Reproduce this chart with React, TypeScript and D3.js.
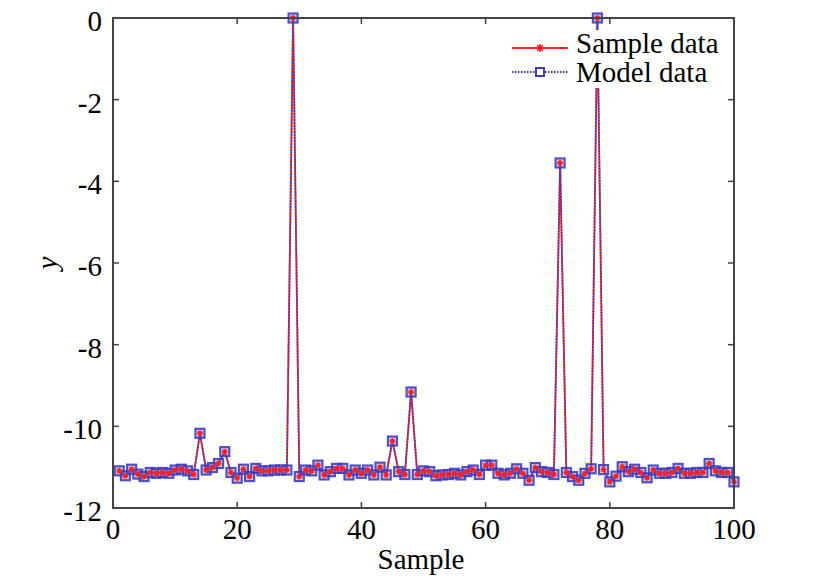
import React from "react";
import * as d3 from "d3";

const samples: number[] = d3.range(1, 101);
const sampleData: number[] = [
  -11.09, -11.21, -11.05, -11.17, -11.23, -11.13, -11.15, -11.13, -11.15, -11.07,
  -11.05, -11.09, -11.18, -10.17, -11.07, -11.01, -10.91, -10.62, -11.13, -11.27,
  -11.05, -11.23, -11.03, -11.09, -11.09, -11.07, -11.07, -11.07, 0.0, -11.23,
  -11.07, -11.09, -10.95, -11.19, -11.11, -11.03, -11.03, -11.19, -11.07, -11.15,
  -11.07, -11.19, -11.0, -11.19, -10.36, -11.11, -11.18, -9.16, -11.18, -11.09,
  -11.11, -11.21, -11.19, -11.18, -11.15, -11.19, -11.11, -11.07, -11.18, -10.95,
  -10.95, -11.15, -11.19, -11.15, -11.04, -11.15, -11.32, -11.01, -11.11, -11.13,
  -11.18, -3.55, -11.13, -11.23, -11.32, -11.15, -11.04, 0.0, -11.06, -11.36,
  -11.22, -10.99, -11.11, -11.05, -11.13, -11.26, -11.07, -11.15, -11.15, -11.13,
  -11.03, -11.15, -11.15, -11.13, -11.13, -10.91, -11.09, -11.13, -11.13, -11.36,
];
const modelData: number[] = sampleData.slice();
const xTicks: number[] = [0, 20, 40, 60, 80, 100];
const yTicks: number[] = [0, -2, -4, -6, -8, -10, -12];
const legendLabels: string[] = ["Sample data", "Model data"];

const W = 825;
const H = 588;
const L = 113, R = 734, T = 18, B = 508;
const FONT = "'Liberation Serif', 'Times New Roman', serif";
const RED = "#ff2020";
const BLUE = "#3c3cc0";
const AXIS = "#444";

const starPath = (r: number) => {
  const d = r * 0.72;
  return `M${-r},0L${r},0M0,${-r}L0,${r}M${-d},${-d}L${d},${d}M${-d},${d}L${d},${-d}`;
};

export default function App() {
  const x = d3.scaleLinear().domain([0, 100]).range([L, R]);
  const y = d3.scaleLinear().domain([-12, 0]).range([B, T]);
  const line = d3
    .line<number>()
    .x((_, i) => x(samples[i]))
    .y((d) => y(d));
  const tick = 6;
  const ms = 9;

  return (
    <svg
      width={W}
      height={H}
      style={{ position: "absolute", left: 0, top: 0, background: "#fff" }}
      fontFamily={FONT}
    >
      <rect x={0} y={0} width={W} height={H} fill="#fff" />
      {/* data lines */}
      <path d={line(sampleData) || ""} fill="none" stroke={RED} strokeWidth={1.8} />
      <path
        d={line(modelData) || ""}
        fill="none"
        stroke={BLUE}
        strokeWidth={1.8}
        strokeDasharray="1.5,1.5"
      />
      {/* markers */}
      {modelData.map((v, i) => (
        <rect
          key={"m" + i}
          x={x(samples[i]) - ms / 2}
          y={y(v) - ms / 2}
          width={ms}
          height={ms}
          fill="#8a86d8"
          fillOpacity={0.35}
          stroke={BLUE}
          strokeWidth={2.2}
          opacity={0.9}
        />
      ))}
      {sampleData.map((v, i) => (
        <path
          key={"s" + i}
          d={starPath(3)}
          transform={`translate(${x(samples[i])},${y(v)})`}
          stroke={RED}
          strokeWidth={1.4}
          fill="none"
        />
      ))}
      {/* legend */}
      <rect x={505} y={30} width={226} height={58} fill="#fff" />
      <line x1={512} x2={568} y1={48} y2={48} stroke={RED} strokeWidth={1.8} />
      <path d={starPath(4)} transform="translate(540,48)" stroke={RED} strokeWidth={1.6} fill="none" />
      <line x1={512} x2={568} y1={72} y2={72} stroke={BLUE} strokeWidth={1.8} strokeDasharray="1.5,1.5" />
      <rect x={536} y={68} width={8} height={8} fill="#fff" stroke={BLUE} strokeWidth={2} />
      {legendLabels.map((t, i) => (
        <text key={t} x={576} y={53 + i * 29} fontSize={29} fill="#000">
          {t}
        </text>
      ))}
      {/* frame */}
      <rect x={L} y={T} width={R - L} height={B - T} fill="none" stroke={AXIS} strokeWidth={2} />
      {xTicks.map((t) => (
        <g key={"xt" + t}>
          <line x1={x(t)} x2={x(t)} y1={B} y2={B - tick} stroke={AXIS} strokeWidth={1.5} />
          <line x1={x(t)} x2={x(t)} y1={T} y2={T + tick} stroke={AXIS} strokeWidth={1.5} />
          <text x={x(t)} y={529} textAnchor="middle" dominantBaseline="central" fontSize={29}>
            {t}
          </text>
        </g>
      ))}
      {yTicks.map((t) => (
        <g key={"yt" + t}>
          <line x1={L} x2={L + tick} y1={y(t)} y2={y(t)} stroke={AXIS} strokeWidth={1.5} />
          <line x1={R} x2={R - tick} y1={y(t)} y2={y(t)} stroke={AXIS} strokeWidth={1.5} />
          <text x={102} y={y(t) + 3} textAnchor="end" dominantBaseline="central" fontSize={29}>
            {t}
          </text>
        </g>
      ))}
      <text x={421} y={569} textAnchor="middle" fontSize={29}>
        Sample
      </text>
      <text
        transform={`translate(57,${(T + B) / 2}) rotate(-90)`}
        textAnchor="middle"
        fontSize={29}
        fontStyle="italic"
      >
        y
      </text>
    </svg>
  );
}
